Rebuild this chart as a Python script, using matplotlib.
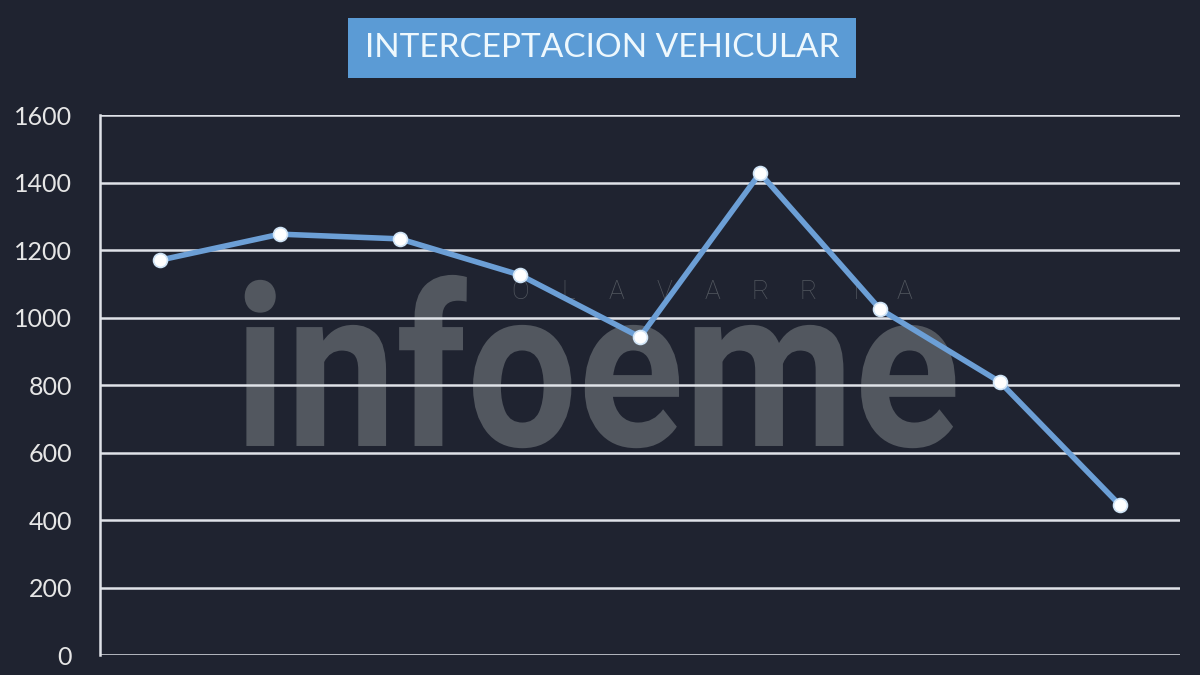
import matplotlib.pyplot as plt
from matplotlib.patches import Rectangle, PathPatch
from matplotlib.textpath import TextPath
from matplotlib.font_manager import FontProperties
from matplotlib.transforms import Affine2D

# valores (9 periodos, sin etiquetas en el eje x)
periodos = list(range(9))
intercepciones = [1170, 1247, 1233, 1126, 942, 1428, 1025, 809, 444]
ticks_y = [0, 200, 400, 600, 800, 1000, 1200, 1400, 1600]

titulo = "INTERCEPTACION VEHICULAR"

fondo = "#1f2330"
azul_linea = "#6c9fd6"
azul_titulo = "#5b9bd5"
gris_marca = "#52575f"

plt.rcParams["font.family"] = ["Lato", "DejaVu Sans"]

fig = plt.figure(figsize=(12, 6.75), dpi=100, facecolor=fondo)
ax = fig.add_axes([0.0833, 0.0296, 0.9, 0.80])
ax.set_facecolor(fondo)

# marca de agua
marca = TextPath((0, 0), "infoeme", size=1,
                 prop=FontProperties(family="Roboto", weight="bold"))
ext = marca.get_extents()
x0, x1, y0, y1 = 0.134, 0.792, 0.383, 0.704
tr = (Affine2D().translate(-ext.x0, -ext.y0)
      .scale((x1 - x0) / ext.width, (y1 - y0) / ext.height)
      .translate(x0, y0) + ax.transAxes)
ax.add_patch(PathPatch(marca, transform=tr, facecolor=gris_marca,
                       edgecolor="none", zorder=0.1))
for i, letra in enumerate("OLAVARRIA"):
    ax.text(0.389 + i * 0.0445, 0.672, letra, transform=ax.transAxes,
            ha="center", va="center", fontsize=19, color=gris_marca,
            family="Roboto", weight="light", zorder=0.2)

ax.plot(periodos, intercepciones, color=azul_linea, lw=4,
        solid_capstyle="round", zorder=3)
ax.plot(periodos, intercepciones, ls="none", marker="o", ms=10,
        markerfacecolor="white", markeredgecolor="#cfe3f5", mew=1.2, zorder=4)

ax.set_xlim(-0.5, 8.5)
ax.set_ylim(0, 1600)
ax.set_yticks(ticks_y)
ax.set_xticks([])
ax.grid(axis="y", color="#dfe2e8", lw=1.8)
ax.tick_params(axis="y", length=0, pad=20, labelsize=18, labelcolor="#e6e6e6")

for lado in ["top", "right", "bottom"]:
    ax.spines[lado].set_visible(False)
ax.spines["left"].set_color("#dfe2e8")
ax.spines["left"].set_linewidth(1.8)

# titulo en recuadro
fig.patches.append(Rectangle((0.29, 0.8844), 0.4233, 0.0889,
                             transform=fig.transFigure, facecolor=azul_titulo,
                             edgecolor="none"))
fig.text(0.5017, 0.929, titulo, ha="center", va="center", fontsize=24,
         color="#eef8fd")

fig.savefig("out.png", dpi=100, facecolor=fondo)
